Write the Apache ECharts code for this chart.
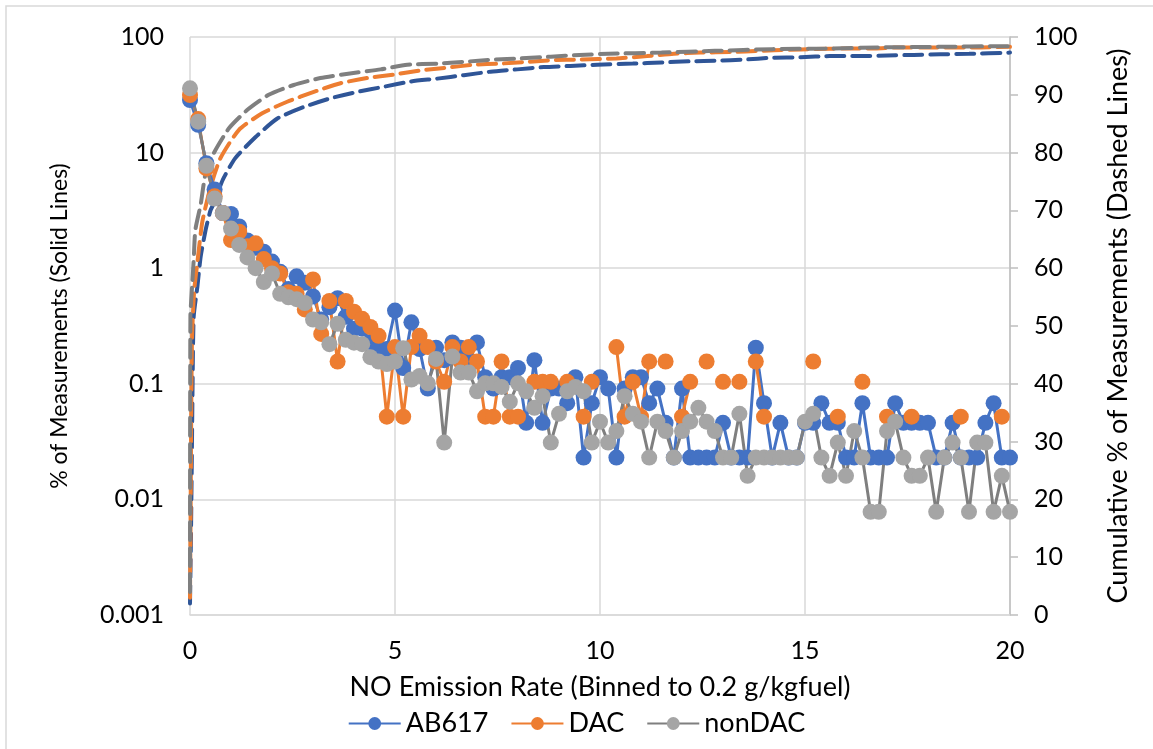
<!DOCTYPE html>
<html><head><meta charset="utf-8">
<script src="https://cdn.jsdelivr.net/npm/echarts@6/dist/echarts.min.js"></script>
<style>html,body{margin:0;padding:0;background:#fff}#c{width:1153px;height:749px}</style>
</head><body><div id="c"></div>
<script>
// bin centres (g/kgfuel)
const xBins = [0,0.2,0.4,0.6,0.8,1,1.2,1.4,1.6,1.8,2,2.2,2.4,2.6,2.8,3,3.2,3.4,3.6,3.8,4,4.2,4.4,4.6,4.8,5,5.2,5.4,5.6,5.8,6,6.2,6.4,6.6,6.8,7,7.2,7.4,7.6,7.8,8,8.2,8.4,8.6,8.8,9,9.2,9.4,9.6,9.8,10,10.2,10.4,10.6,10.8,11,11.2,11.4,11.6,11.8,12,12.2,12.4,12.6,12.8,13,13.2,13.4,13.6,13.8,14,14.2,14.4,14.6,14.8,15,15.2,15.4,15.6,15.8,16,16.2,16.4,16.6,16.8,17,17.2,17.4,17.6,17.8,18,18.2,18.4,18.6,18.8,19,19.2,19.4,19.6,19.8,20];

// % of measurements (solid lines)
const ab617 = [28.5,17.4,8.1,4.8,3.0,2.95,2.3,1.74,1.5,1.39,1.14,0.93,0.66,0.85,0.75,0.57,0.36,0.46,0.55,0.38,
0.3,0.3,0.23,0.2,0.2,0.43,0.137,0.34,0.2,0.091,0.205,0.16,0.228,0.205,0.16,0.228,0.114,0.091,0.114,0.114,
0.137,0.046,0.16,0.046,0.091,0.091,0.068,0.114,0.023,0.068,0.114,0.091,0.023,0.091,0.114,0.114,0.068,0.091,0.046,0.023,
0.091,0.023,0.023,0.023,0.023,0.046,0.023,0.023,0.023,0.205,0.068,0.023,0.046,0.023,0.023,0.046,0.046,0.068,0.046,0.046,
0.023,0.023,0.068,0.023,0.023,0.023,0.068,0.046,0.046,0.046,0.046,0.023,0.023,0.046,0.023,0.023,0.023,0.046,0.068,0.023,0.023];

const dac = [31.5,19.5,7.3,4.2,3.0,1.75,2.07,1.55,1.64,1.2,1.0,0.9,0.62,0.6,0.44,0.8,0.27,0.52,0.156,0.52,
0.42,0.365,0.31,0.26,0.052,0.208,0.052,0.208,0.26,0.208,0.156,0.104,0.208,0.156,0.208,0.156,0.052,0.052,0.156,0.052,
0.052,null,0.104,0.104,0.104,null,0.104,null,0.052,0.104,null,null,0.208,0.052,0.104,0.052,0.156,null,0.156,null,
0.052,0.104,null,0.156,null,0.104,null,0.104,null,0.156,0.052,null,null,null,null,null,0.156,null,null,0.052,
null,null,0.104,null,null,0.052,null,null,0.052,null,null,null,null,null,0.052,null,null,null,null,0.052,null];

const nonDac = [36,18.5,7.7,4.0,3.0,2.2,1.59,1.24,1.0,0.76,0.9,0.6,0.56,0.54,0.5,0.36,0.34,0.22,0.33,0.24,
0.227,0.22,0.17,0.156,0.148,0.156,0.203,0.109,0.117,0.101,0.164,0.031,0.172,0.125,0.125,0.086,0.101,0.101,0.094,0.07,
0.101,0.086,0.062,0.078,0.031,0.055,0.086,0.094,0.086,0.031,0.047,0.031,0.039,0.078,0.055,0.047,0.023,0.047,0.039,0.023,
0.039,0.047,0.062,0.047,0.039,0.023,0.023,0.055,0.016,0.023,0.023,0.023,0.023,0.023,0.023,0.047,0.055,0.023,0.016,0.031,
0.016,0.039,0.023,0.0078,0.0078,0.039,0.047,0.023,0.016,0.016,0.023,0.0078,0.023,0.031,0.023,0.0078,0.031,0.031,0.0078,0.016,0.0078];

// cumulative % (dashed lines)
const cumAbX = [0,0.02,0.04,0.06,0.09,0.18,0.26,0.38,0.5,0.58,0.8,1.1,1.6,2.13,2.78,3.43,4.08,4.73,5.38,6.03,6.68,7.33,7.98,8.63,9.28,9.93,10.8,11.5,12.2,12.86,13.5,14.2,14.9,15.6,16.3,17,17.65,18.3,19,20];
const cumAbY = [2,12,24,38,51.6,56.8,62,66.6,70,71.2,75.3,79,82.7,85.9,87.9,89.4,90.5,91.4,92.3,92.8,93.4,94,94.4,94.8,95,95.2,95.4,95.6,95.8,95.9,96.1,96.4,96.5,96.7,96.7,96.8,96.9,97,97.1,97.3];
const cumDacX = [0,0.015,0.03,0.05,0.1,0.18,0.3,0.5,0.74,1.19,1.76,2.37,3.02,3.67,4.32,4.97,5.62,6.27,6.92,7.57,8.22,8.87,9.5,10.4,11.15,11.8,12.45,13.2,13.9,14.6,15.2,16,16.7,17.3,18,19.3,20];
const cumDacY = [3,18,35,48,56,61,68,74,79,83.9,86.8,88.8,90.5,92,92.9,93.5,94.2,94.7,95.2,95.4,95.7,96,96.1,96.3,96.7,97.1,97.3,97.4,97.6,97.8,97.9,98,98,98.2,98.2,98.2,98.3];
const cumNonX = [0,0.01,0.05,0.09,0.13,0.26,0.38,0.58,0.95,1.4,1.92,2.53,3.18,3.9,4.65,5.3,6.03,6.68,7.4,8.06,8.8,9.5,10.2,11.5,12.8,14.2,15.5,16.8,18.3,19.7,20];
const cumNonY = [4,51.6,56.8,61.4,66.6,71,76.4,79.9,84.2,87.4,90,91.7,92.9,93.7,94.4,95.2,95.4,95.7,96.1,96.3,96.6,96.9,97.1,97.3,97.6,97.9,98,98.2,98.3,98.4,98.4];

const leftTickLabels = ['0.001','0.01','0.1','1','10','100'];
const seriesNames = ['AB617','DAC','nonDAC'];

const pairs = (xs, ys) => xs.map((x, i) => [x, ys[i] == null ? null : ys[i]]);
const FONT = 'Lato';
const chart = echarts.init(document.getElementById('c'), null, {renderer: 'canvas'});

function dashed(name, xs, ys, color) {
  return {name, type: 'line', yAxisIndex: 1, data: pairs(xs, ys), symbol: 'none', showSymbol: false,
    lineStyle: {color, width: 4, type: [18, 8], cap: 'round'}, z: 1, silent: true, smooth: 0.2};
}
function solid(name, ys, lineColor, markColor) {
  return {name, type: 'line', yAxisIndex: 0, data: pairs(xBins, ys), symbol: 'circle', symbolSize: 16,
    showSymbol: true, connectNulls: false,
    lineStyle: {color: lineColor, width: 3}, itemStyle: {color: markColor, borderWidth: 0}, z: 3};
}

chart.setOption({
  animation: false,
  backgroundColor: '#fff',
  textStyle: {fontFamily: FONT},
  graphic: [{type: 'rect', shape: {x: 6, y: 6, width: 1300, height: 900},
    style: {fill: 'none', stroke: '#d9d9d9', lineWidth: 1.5}, z: -10}],
  grid: {left: 190, right: 143, top: 37, bottom: 134},
  legend: {data: seriesNames, top: 705, left: 'center', itemWidth: 52, itemHeight: 16, itemGap: 22,
    textStyle: {fontFamily: FONT, fontSize: 27, color: '#000'}},
  xAxis: {type: 'value', min: 0, max: 20, interval: 5,
    name: 'NO Emission Rate (Binned to 0.2 g/kgfuel)', nameLocation: 'middle', nameGap: 59,
    nameTextStyle: {fontFamily: FONT, fontSize: 27, color: '#000'},
    axisLine: {show: true, lineStyle: {color: '#d9d9d9', width: 1.5}},
    axisTick: {show: false},
    axisLabel: {margin: 23, fontFamily: FONT, fontSize: 25, color: '#000'},
    splitLine: {show: true, lineStyle: {color: '#d9d9d9', width: 1.5}}},
  yAxis: [
    {type: 'log', logBase: 10, min: 0.001, max: 100, position: 'left',
      name: '% of Measurements (Solid Lines)', nameLocation: 'middle', nameGap: 119, nameRotate: 90,
      nameTextStyle: {fontFamily: FONT, fontSize: 23, color: '#000'},
      axisLine: {show: false}, axisTick: {show: false},
      splitLine: {show: true, lineStyle: {color: '#d9d9d9', width: 1.5}},
      axisLabel: {margin: 26, fontFamily: FONT, fontSize: 25, color: '#000',
        formatter: v => leftTickLabels[Math.round(Math.log10(v)) + 3]}},
    {type: 'value', min: 0, max: 100, interval: 10, position: 'right',
      name: 'Cumulative % of Measurements (Dashed Lines)', nameLocation: 'middle', nameGap: 95, nameRotate: 90,
      nameTextStyle: {fontFamily: FONT, fontSize: 27, color: '#000'},
      axisLine: {show: true, lineStyle: {color: '#bfbfbf', width: 1.5}},
      axisTick: {show: true, inside: false, length: 8, lineStyle: {color: '#bfbfbf', width: 1.5}},
      axisLabel: {margin: 24, fontFamily: FONT, fontSize: 25, color: '#000'},
      splitLine: {show: false}}
  ],
  series: [
    dashed('AB617 cumulative', cumAbX, cumAbY, '#2f5597'),
    dashed('DAC cumulative', cumDacX, cumDacY, '#ed7d31'),
    dashed('nonDAC cumulative', cumNonX, cumNonY, '#7f7f7f'),
    solid('AB617', ab617, '#4472c4', '#4472c4'),
    solid('DAC', dac, '#ed7d31', '#ed7d31'),
    solid('nonDAC', nonDac, '#7f7f7f', '#a5a5a5')
  ]
});
</script></body></html>
